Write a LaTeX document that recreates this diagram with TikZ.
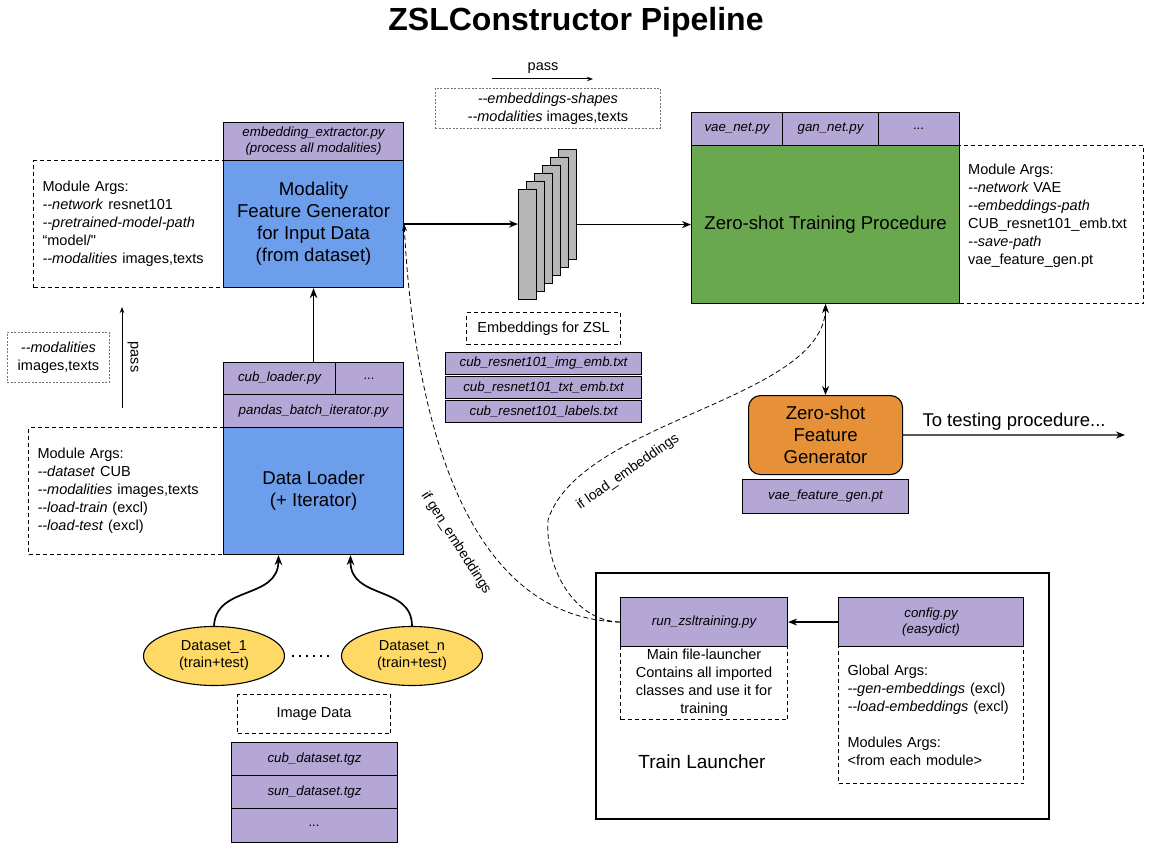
\documentclass[tikz,border=0pt]{standalone}
\usepackage{fontspec}
\setmainfont{Liberation Sans}[Ligatures=TeXOff]
\usetikzlibrary{arrows.meta,shapes.geometric}
\definecolor{cpur}{HTML}{B4A7D6}
\definecolor{cblue}{HTML}{6D9EEB}
\definecolor{cgreen}{HTML}{6AA84F}
\definecolor{corange}{HTML}{E69138}
\definecolor{cyellow}{HTML}{FFD966}
\definecolor{cgray}{HTML}{B7B7B7}
\begin{document}
\begin{tikzpicture}[x=1pt,y=-1pt,
 bx/.style={draw, line width=1.1pt, inner sep=0pt, anchor=north west, align=center},
 pur/.style={bx, fill=cpur, font=\itshape\fontsize{13.3}{16}\selectfont},
 big/.style={font=\fontsize{18.6}{22}\selectfont},
 txt/.style={font=\fontsize{14.5}{18}\selectfont},
 args/.style={bx, dash pattern=on 4pt off 3pt, align=left, inner xsep=9pt, font=\fontsize{14.5}{18}\selectfont},
 dsbox/.style={bx, dash pattern=on 4pt off 3pt, font=\fontsize{14.5}{18}\selectfont},
 dotbox/.style={bx, draw=black!55, dash pattern=on 2pt off 1.5pt, line width=0.8pt, font=\fontsize{14.5}{18}\selectfont},
 arr/.style={line width=1.3pt, -{Stealth[length=9pt,width=7pt]}},
 carr/.style={line width=1.7pt, -{Stealth[length=10pt,width=7.5pt]}},
 darr/.style={line width=1.3pt, {Stealth[length=9pt,width=7pt]}-{Stealth[length=9pt,width=7pt]}},
 sarr/.style={line width=1pt, -{Stealth[length=6pt,width=4.5pt]}},
 dsh/.style={line width=0.8pt, dash pattern=on 5pt off 3pt, -{Stealth[length=7pt,width=5pt]}},
 ell/.style={ellipse, draw, line width=1.1pt, fill=cyellow, inner sep=0pt, minimum width=141pt, minimum height=59pt, align=center, font=\fontsize{14.5}{17}\selectfont}
]
\useasboundingbox (0,0) rectangle (1152,864);
\node[font=\bfseries\fontsize{32}{36}\selectfont] (title) at (576,22) {ZSLConstructor Pipeline};

% ---------- modality feature generator ----------
\node[args, minimum width=190pt, minimum height=127pt, text width=172pt] (a1) at (33,160)
 {Module Args:\\\textit{--network} resnet101\\\textit{--pretrained-model-path}\\“model/"\\\textit{--modalities} images,texts};
\node[pur, minimum width=180pt, minimum height=38pt] (ee) at (223,122) {embedding\_extractor.py\\(process all modalities)};
\node[bx, fill=cblue, big, minimum width=180pt, minimum height=127pt] (mf) at (223,160) {Modality\\Feature Generator\\for Input Data\\(from dataset)};

% ---------- pass (top) ----------
\node[txt] (p1) at (543,68) {pass};
\coordinate (p1a) at (492,79);
\coordinate (p1b) at (593,79);
\draw[sarr] (p1a) -- (p1b);
\node[dotbox, minimum width=225pt, minimum height=40pt] (pb) at (435,88) {\textit{--embeddings-shapes}\\\textit{--modalities} images,texts};

% ---------- embedding stack ----------
\foreach \i in {5,4,3,2,1,0} {
  \node[bx, fill=cgray, minimum width=18pt, minimum height=110pt] (s\i) at (518+8*\i,189-8*\i) {};
}
\node[dsbox, minimum width=154pt, minimum height=32pt] (ezsl) at (466,312) {Embeddings for ZSL};
\node[pur, minimum width=196pt, minimum height=22pt] (e1) at (445,352) {cub\_resnet101\_img\_emb.txt};
\node[pur, minimum width=196pt, minimum height=22pt] (e2) at (445,376) {cub\_resnet101\_txt\_emb.txt};
\node[pur, minimum width=196pt, minimum height=22pt] (e3) at (445,400) {cub\_resnet101\_labels.txt};

% ---------- zero-shot training ----------
\node[bx, fill=cgreen, big, minimum width=268pt, minimum height=158pt] (gz) at (691,145) {Zero-shot Training Procedure};
\node[pur, minimum width=91pt, minimum height=33pt] (vae) at (691,112) {vae\_net.py};
\node[pur, minimum width=96pt, minimum height=33pt] (gan) at (782,112) {gan\_net.py};
\node[pur, minimum width=81pt, minimum height=33pt] (more1) at (878,112) {...};
\node[dsbox, minimum width=184pt, minimum height=158pt] (a3) at (959,145) {};
\node[txt, align=left, anchor=west, inner sep=0pt] (a3t) at (968,216)
 {Module Args:\\\textit{--network} VAE\\\textit{--embeddings-path}\\CUB\_resnet101\_emb.txt\\\textit{--save-path}\\vae\_feature\_gen.pt};

\draw[arr] (mf.east) -- (mf.east -| s0.west);
\draw[arr] (s5.east |- gz.west) -- (gz.west);

% ---------- pass (left) ----------
\node[dotbox, minimum width=102pt, minimum height=50pt] (pl) at (7,332) {\textit{--modalities}\\images,texts};
\coordinate (p2a) at (122,408);
\coordinate (p2b) at (122,307);
\draw[sarr] (p2a) -- (p2b);
\node[txt, rotate=-90] (p2) at (133,357) {pass};

% ---------- data loader ----------
\node[pur, minimum width=112pt, minimum height=32pt] (cub) at (223,362) {cub\_loader.py};
\node[pur, minimum width=68pt, minimum height=32pt] (more2) at (335,362) {...};
\node[pur, minimum width=180pt, minimum height=33pt] (pit) at (223,394) {pandas\_batch\_iterator.py};
\node[args, minimum width=195pt, minimum height=127pt, text width=177pt] (a2) at (28,427)
 {Module Args:\\\textit{--dataset} CUB\\\textit{--modalities} images,texts\\\textit{--load-train} (excl)\\\textit{--load-test} (excl)};
\node[bx, fill=cblue, big, minimum width=180pt, minimum height=127pt] (dl) at (223,427) {Data Loader\\(+ Iterator)};
\draw[carr] (cub.north -| mf.south) -- (mf.south);

% ---------- datasets ----------
\node[ell] (ds1) at (214,656) {Dataset\_1\\(train+test)};
\node[ell] (ds2) at (412,656) {Dataset\_n\\(train+test)};
\draw[line width=1.6pt, dash pattern=on 1.6pt off 5.4pt] ([xshift=7pt]ds1.east) -- ([xshift=-7pt]ds2.west);
\draw[carr] (ds1.north) .. controls (216,585) and (278,600) .. ([xshift=-35pt]dl.south);
\draw[carr] (ds2.north) .. controls (412,585) and (350,600) .. ([xshift=37pt]dl.south);

\node[dsbox, minimum width=153pt, minimum height=39pt] (imd) at (237,694) {Image Data};
\node[pur, minimum width=166pt, minimum height=33pt] (c1) at (231,742) {cub\_dataset.tgz};
\node[pur, minimum width=166pt, minimum height=33pt] (c2) at (231,775) {sun\_dataset.tgz};
\node[pur, minimum width=166pt, minimum height=34pt] (c3) at (231,808) {...};

% ---------- feature generator ----------
\node[bx, fill=corange, rounded corners=12pt, big, minimum width=154pt, minimum height=79pt] (fg) at (748,395) {Zero-shot\\Feature\\Generator};
\node[pur, minimum width=166pt, minimum height=34pt] (vf) at (742,479) {vae\_feature\_gen.pt};
\draw[darr] (gz.south) -- (fg.north);
\coordinate (test) at (1125,435);
\draw[arr] (fg.east) -- (test) node[midway, above=1pt, font=\fontsize{18.5}{22}\selectfont] {To testing procedure...};

% ---------- train launcher ----------
\node[bx, line width=2pt, minimum width=453pt, minimum height=246pt] (tl) at (595,572) {};
\node[font=\fontsize{19}{22}\selectfont] (tlt) at (702,762) {Train Launcher};
\node[dsbox, minimum width=167pt, minimum height=73pt] (rund) at (620,646) {Main file-launcher\\Contains all imported\\classes and use it for\\training};
\node[pur, minimum width=167pt, minimum height=49pt] (run) at (620,597) {run\_zsltraining.py};
\node[args, minimum width=185pt, minimum height=137pt, text width=167pt] (cfgd) at (838,646)
 {Global Args:\\\textit{--gen-embeddings} (excl)\\\textit{--load-embeddings} (excl)\\[18pt]Modules Args:\\<from each module>};
\node[pur, minimum width=185pt, minimum height=49pt] (cfg) at (838,597) {config.py\\(easydict)};
\draw[arr] (cfg.west) -- (run.east);

% ---------- conditional connectors ----------
\draw[dsh] (run.west) .. controls (470,618) and (415,430) .. (mf.east);
\node[font=\fontsize{14}{18}\selectfont, rotate=-57.5] (lg) at (456,543) {if gen\_embeddings};
\draw[dsh] (run.west) .. controls (575,621) and (545,570) .. (548,520) .. controls (580,420) and (824,400) .. (gz.south);
\node[font=\fontsize{14}{18}\selectfont, rotate=35] (ll) at (628,472) {if load\_embeddings};
\end{tikzpicture}
\end{document}
